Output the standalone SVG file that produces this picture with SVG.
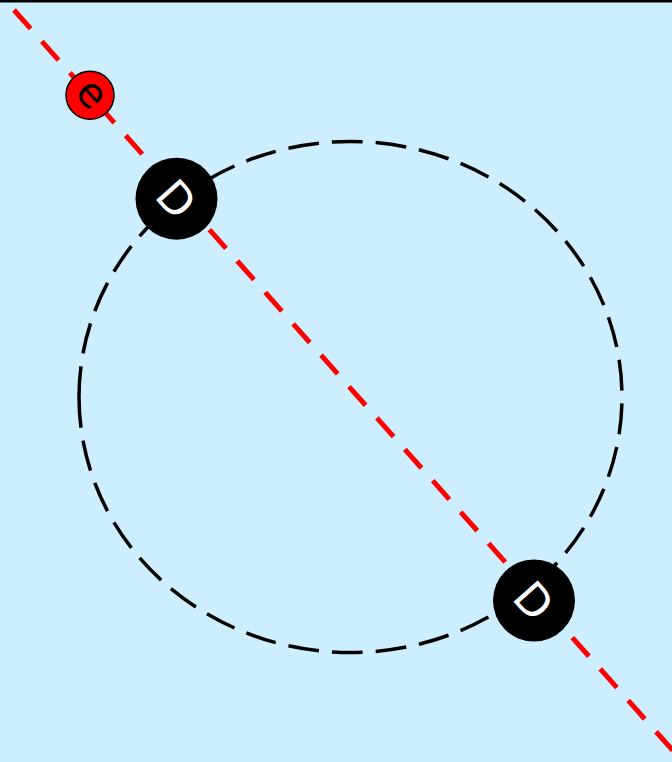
<svg xmlns="http://www.w3.org/2000/svg" width="672" height="762" viewBox="0 0 672 762">
  <style>
    .bg { fill: #cceeff; }
    .orbit { fill: none; stroke: #000; stroke-width: 3.5; stroke-dasharray: 31 13; }
    .axis { fill: none; stroke: #ff0000; stroke-width: 5; stroke-dasharray: 25 17; }
    .big { fill: #000; }
    .small { fill: #ff0000; stroke: #000; stroke-width: 1.5; }
    .lblD { font-family: "DejaVu Sans", sans-serif; font-size: 44px; fill: #fff; text-anchor: middle; }
    .lblE { font-family: "DejaVu Sans", sans-serif; font-size: 41px; fill: #000; text-anchor: middle; }
  </style>
  <rect class="bg" x="0" y="0" width="672" height="762"/>
  <rect x="0" y="0" width="672" height="2.5" fill="#000"/>
  <g id="orbit">
    <path class="orbit" pathLength="1659" d="M 79 397 A 271.5 255.5 0 0 0 350.5 652.5 A 271.5 255.5 0 0 0 622 397 A 271.5 255.5 0 0 0 350.5 141.5 A 271.5 255.5 0 0 0 79 397"/>
  </g>
  <g id="connectors">
    <line class="axis" x1="14" y1="10" x2="680" y2="758.6"/>
  </g>
  <g id="node-e">
    <circle class="small" cx="90" cy="95.3" r="24"/>
    <g transform="translate(90,95.3) rotate(48.3)">
      <text class="lblE" x="0" y="11">e</text>
    </g>
  </g>
  <g id="node-d1">
    <circle class="big" cx="176.5" cy="198.7" r="41"/>
    <g transform="translate(176.5,198.7) rotate(48.3)">
      <text class="lblD" x="0" y="16">D</text>
    </g>
  </g>
  <g id="node-d2">
    <circle class="big" cx="534" cy="600.5" r="41"/>
    <g transform="translate(534,600.5) rotate(48.3)">
      <text class="lblD" x="0" y="16">D</text>
    </g>
  </g>
</svg>
